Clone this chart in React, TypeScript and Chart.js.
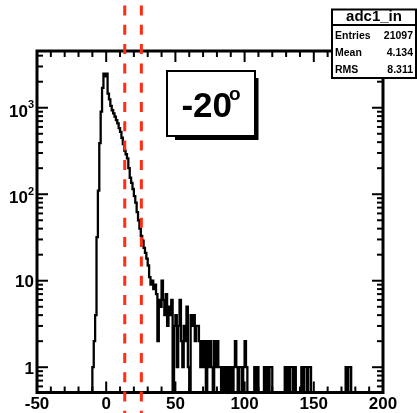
import React, { useEffect, useRef } from 'react';
import { Chart, registerables } from 'chart.js';

Chart.register(...registerables);

// ---- histogram contents (1-unit bins, first bin starts at BIN_START) ----
const BIN_START = -12;
const BIN_WIDTH = 1;
const COUNTS = [
  0, 0, 1, 2, 4, 32, 110, 390, 900, 1700, // -12 .. -3
  2480, 2300, 2480, 1460, 1250, 1050, 935, 860, 790, 720, // -2 .. 7
  660, 580, 526, 450, 380, 320, 290, 260, 200, 155, // 8 .. 17
  135, 115, 95, 80, 62, 50, 40, 33, 29, 24, // 18 .. 27
  21, 18, 15, 11, 9, 10, 8, 9, 7, 2, // 28 .. 37
  6, 5, 10, 6, 4, 7, 3, 5, 4, 6, // 38 .. 47
  0, 3, 4, 1, 3, 6, 2, 1, 3, 2, // 48 .. 57
  5, 1, 0, 4, 3, 4, 2, 3, 3, 2, // 58 .. 67
  1, 2, 1, 2, 0, 2, 1, 2, 1, 0, // 68 .. 77
  2, 1, 2, 1, 1, 0, 1, 0, 1, 0, // 78 .. 87
  1, 0, 1, 0, 1, 2, 1, 0, 1, 1, // 88 .. 97
  0, 1, 2, 1, 0, 0, 0, 0, 0, 1, // 98 .. 107
  0, 1, 0, 0, 0, 0, 1, 0, 1, 0, // 108 .. 117
  1, 1, 0, 0, 0, 0, 0, 0, 0, 0, // 118 .. 127
  0, 1, 0, 1, 0, 1, 1, 0, 1, 0, // 128 .. 137
  0, 0, 0, 1, 0, 1, 1, 0, 1, 1, // 138 .. 147
  0, 0, 0, 0, 0, 0, 0, 0, 0, 0, // 148 .. 157
  0, 0, 0, 0, 0, 0, 0, 0, 0, 0, // 158 .. 167
  0, 0, 0, 0, 0, 1, 0, 1, 1, 0, // 168 .. 177
  0, 0, 0, // 178 .. 180
];

// ---- axes ----
const X_MIN = -50;
const X_MAX = 200;
const Y_MIN = 0.51;
const Y_MAX = 4530;
const X_TICKS = [-50, 0, 50, 100, 150, 200];
const X_MINOR_STEP = 10;
const Y_TICKS = [1, 10, 100, 1000];

// ---- cut lines ----
const CUTS = [13.4, 25.4];

// ---- text ----
const STATS_TITLE = 'adc1_in';
const STATS_NAMES = ['Entries', 'Mean', 'RMS'];
const STATS_VALUES = ['21097', '4.134', '8.311'];
const ANGLE_TEXT = '-20';
const ANGLE_SUP = 'o';

const FONT = '"Liberation Sans", Arial, Helvetica, sans-serif';
const EMPTY_LEVEL = 0.05; // empty bins fall below the log axis floor
const CUT_COLOR = 'rgb(255,45,20)';

function buildPoints() {
  const pts = COUNTS.map((c, i) => ({
    x: BIN_START + i * BIN_WIDTH,
    y: c > 0 ? c : EMPTY_LEVEL,
  }));
  const last = pts[pts.length - 1];
  pts.push({ x: BIN_START + COUNTS.length * BIN_WIDTH, y: last.y });
  return pts;
}

const decorPlugin = {
  id: 'rootDecor',
  afterDatasetsDraw(chart: any) {
    const { ctx, chartArea: a, scales } = chart;
    const xs = scales.x;
    const ys = scales.y;
    ctx.save();
    ctx.strokeStyle = '#000';
    ctx.fillStyle = '#000';

    // ticks on all four sides
    ctx.lineWidth = 2;
    const seg = (x1: number, y1: number, x2: number, y2: number) => {
      ctx.beginPath();
      ctx.moveTo(x1, y1);
      ctx.lineTo(x2, y2);
      ctx.stroke();
    };
    for (let v = X_MIN; v <= X_MAX; v += X_MINOR_STEP) {
      const px = xs.getPixelForValue(v);
      const len = X_TICKS.includes(v) ? 11 : 6;
      seg(px, a.bottom, px, a.bottom - len);
      seg(px, a.top, px, a.top + len);
    }
    for (let d = 0.1; d <= 1000; d *= 10) {
      for (let k = 1; k <= 9; k++) {
        const v = Math.round(k * d * 1000) / 1000;
        if (v < Y_MIN || v > Y_MAX) continue;
        const py = ys.getPixelForValue(v);
        const len = Y_TICKS.includes(v) ? 11 : 6;
        seg(a.left, py, a.left + len, py);
        seg(a.right, py, a.right - len, py);
      }
    }

    // frame
    ctx.lineWidth = 3;
    ctx.strokeRect(a.left, a.top, a.right - a.left, a.bottom - a.top);

    // x labels
    ctx.font = `bold 17px ${FONT}`;
    ctx.textAlign = 'center';
    ctx.textBaseline = 'alphabetic';
    X_TICKS.forEach((v) => {
      ctx.fillText(String(v), xs.getPixelForValue(v), a.bottom + 16.5);
    });

    // y labels
    const labelRight = a.left - 3;
    Y_TICKS.forEach((v) => {
      const py = ys.getPixelForValue(v);
      const exp = Math.round(Math.log10(v));
      if (exp >= 2) {
        ctx.font = `bold 11px ${FONT}`;
        const supW = ctx.measureText(String(exp)).width;
        ctx.textAlign = 'right';
        ctx.fillText(String(exp), labelRight, py + 0.5);
        ctx.font = `bold 17px ${FONT}`;
        ctx.fillText('10', labelRight - supW, py + 9);
      } else {
        ctx.font = `bold 17px ${FONT}`;
        ctx.textAlign = 'right';
        ctx.fillText(String(v), labelRight, py + 6.5);
      }
    });
    ctx.restore();
  },
  afterDraw(chart: any) {
    const { ctx, scales, height } = chart;
    const xs = scales.x;
    ctx.save();

    // dashed cut lines spanning the whole canvas height
    ctx.strokeStyle = CUT_COLOR;
    ctx.lineWidth = 3;
    ctx.setLineDash([10, 9.3]);
    CUTS.forEach((c) => {
      const px = xs.getPixelForValue(c);
      ctx.beginPath();
      ctx.moveTo(px, 5.5 - 19.3);
      ctx.lineTo(px, height);
      ctx.stroke();
    });
    ctx.setLineDash([]);

    // statistics box
    const sx = 332, sy = 9.5, sw = 84, sh = 68.5;
    ctx.fillStyle = '#fff';
    ctx.fillRect(sx, sy, sw, sh);
    ctx.strokeStyle = '#000';
    ctx.lineWidth = 2;
    ctx.strokeRect(sx, sy, sw, sh);
    ctx.beginPath();
    ctx.moveTo(sx, 25);
    ctx.lineTo(sx + sw, 25);
    ctx.stroke();
    ctx.fillStyle = '#000';
    ctx.font = `bold 15px ${FONT}`;
    ctx.textAlign = 'center';
    ctx.textBaseline = 'alphabetic';
    ctx.fillText(STATS_TITLE, sx + sw / 2, 20.5);
    ctx.font = `bold 10.5px ${FONT}`;
    const rowY = [39, 56, 73];
    STATS_NAMES.forEach((name, i) => {
      ctx.textAlign = 'left';
      ctx.fillText(name, 335, rowY[i]);
      ctx.textAlign = 'right';
      ctx.fillText(STATS_VALUES[i], 413, rowY[i]);
    });

    // angle label with drop shadow
    const bx = 167, by = 71, bw = 88, bh = 65;
    ctx.fillStyle = '#000';
    ctx.fillRect(bx + 8, by + 7, bw - 4.5, bh - 3);
    ctx.fillStyle = '#fff';
    ctx.fillRect(bx, by, bw, bh);
    ctx.strokeStyle = '#000';
    ctx.lineWidth = 2;
    ctx.strokeRect(bx, by, bw, bh);
    ctx.fillStyle = '#000';
    ctx.font = `bold 35px ${FONT}`;
    const mainW = ctx.measureText(ANGLE_TEXT).width;
    ctx.font = `bold 19px ${FONT}`;
    const supW = ctx.measureText(ANGLE_SUP).width;
    const startX = bx + bw / 2 - (mainW + supW - 3) / 2;
    ctx.textAlign = 'left';
    ctx.font = `bold 35px ${FONT}`;
    ctx.fillText(ANGLE_TEXT, startX, 116.5);
    ctx.font = `bold 19px ${FONT}`;
    ctx.fillText(ANGLE_SUP, startX + mainW - 3, 100);

    ctx.restore();
  },
};

export default function App() {
  const ref = useRef<HTMLCanvasElement | null>(null);

  useEffect(() => {
    if (!ref.current) return;
    const chart = new Chart(ref.current, {
      type: 'line',
      data: {
        datasets: [
          {
            data: buildPoints(),
            borderColor: '#000',
            borderWidth: 2.3,
            pointRadius: 0,
            stepped: true,
            fill: false,
            tension: 0,
          },
        ],
      },
      options: {
        animation: false,
        responsive: false,
        devicePixelRatio: 1,
        layout: { padding: { left: 37, top: 51, right: 34, bottom: 20.5 } },
        plugins: { legend: { display: false }, tooltip: { enabled: false } },
        scales: {
          x: { type: 'linear', min: X_MIN, max: X_MAX, display: false },
          y: { type: 'logarithmic', min: Y_MIN, max: Y_MAX, display: false },
        },
      },
      plugins: [decorPlugin],
    });
    return () => chart.destroy();
  }, []);

  return (
    <div style={{ position: 'fixed', left: 0, top: 0, width: 417, height: 413, background: '#fff' }}>
      <canvas ref={ref} width={417} height={413} />
    </div>
  );
}
